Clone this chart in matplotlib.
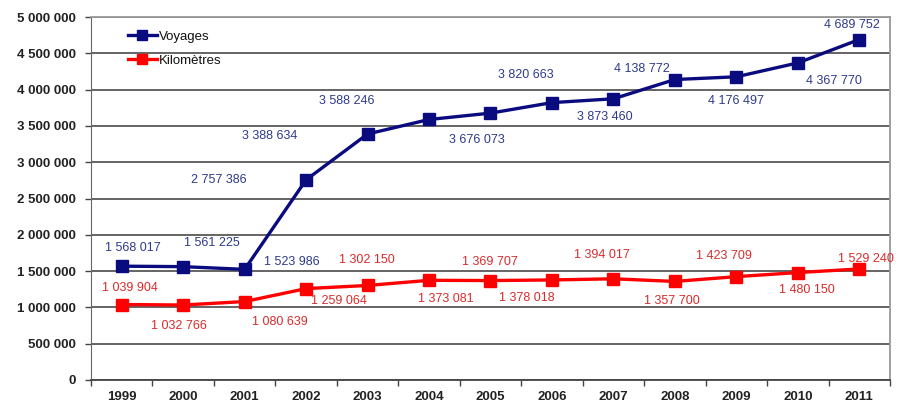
import matplotlib
matplotlib.use("Agg")
import matplotlib.pyplot as plt
from matplotlib.ticker import FuncFormatter, MultipleLocator, FixedLocator
import numpy as np

years = ["1999", "2000", "2001", "2002", "2003", "2004", "2005",
         "2006", "2007", "2008", "2009", "2010", "2011"]
voyages = [1568017, 1561225, 1523986, 2757386, 3388634, 3588246, 3676073,
           3820663, 3873460, 4138772, 4176497, 4367770, 4689752]
kilometres = [1039904, 1032766, 1080639, 1259064, 1302150, 1373081, 1369707,
              1378018, 1394017, 1357700, 1423709, 1480150, 1529240]
series_names = ["Voyages", "Kilomètres"]

# label offsets in pixels (dx, dy) - styling only
voy_off = [(11, 18), (29, 24), (47, 7), (-87, 0), (-98, -2), (-82, 18), (-14, -27),
           (-26, 28), (-9, -18), (-33, 11), (0, -24), (36, -18), (-7, 15)]
km_off = [(8, 17), (-4, -21), (35, -20), (33, -12), (-1, 25), (17, -19), (-1, 19),
          (-25, -18), (-11, 24), (-3, -20), (-12, 21), (9, -17), (7, 10)]

plt.rcParams['font.family'] = ['Liberation Sans', 'DejaVu Sans']

fig = plt.figure(figsize=(9.03, 4.03), dpi=100)
ax = fig.add_axes([91/903, 23/403, (890-91)/903, (380-17)/403])

x = np.arange(len(years))
c_voy = "#0b0b80"
c_km = "#ff0000"
ax.plot(x, voyages, color=c_voy, lw=2.4, marker="s", ms=8.5, label=series_names[0], zorder=3)
ax.plot(x, kilometres, color=c_km, lw=2.4, marker="s", ms=8.5, label=series_names[1], zorder=3)

def fmt(v):
    return f"{v:,}".replace(",", " ")

for xi, v, (dx, dy) in zip(x, voyages, voy_off):
    ax.annotate(fmt(v), (xi, v), xytext=(dx, dy), textcoords="offset pixels",
                ha="center", va="center", fontsize=9, color="#2e3a8c", zorder=4)
for xi, v, (dx, dy) in zip(x, kilometres, km_off):
    ax.annotate(fmt(v), (xi, v), xytext=(dx, dy), textcoords="offset pixels",
                ha="center", va="center", fontsize=9, color="#d92b2b", zorder=4)

ax.set_xlim(-0.5, len(years) - 0.5)
ax.set_ylim(0, 5000000)
ax.yaxis.set_major_locator(MultipleLocator(500000))
ax.yaxis.set_major_formatter(FuncFormatter(lambda v, p: fmt(int(v))))
ax.set_xticks(x)
ax.set_xticklabels(years)
ax.xaxis.set_minor_locator(FixedLocator(np.arange(-0.5, len(years), 1.0)))
ax.tick_params(axis="x", which="major", length=0, pad=8, labelsize=9.5, labelcolor="#222222")
ax.tick_params(axis="x", which="minor", length=4, width=1, color="#444444", direction="out")
ax.tick_params(axis="y", length=4, width=1, color="#444444", labelsize=9.5, labelcolor="#222222", pad=7)
for lab in ax.get_xticklabels() + ax.get_yticklabels():
    lab.set_fontweight("bold")

ax.grid(axis="y", color="#3a3a3a", lw=1.1, zorder=0)
ax.set_axisbelow(True)
ax.spines["left"].set_color("#666666")
ax.spines["bottom"].set_color("#444444")
ax.spines["bottom"].set_linewidth(1.3)
ax.spines["top"].set_color("#999999")
ax.spines["right"].set_color("#999999")
ax.spines["top"].set_linewidth(1.3)
ax.spines["right"].set_linewidth(1.3)

leg = ax.legend(loc="upper left", bbox_to_anchor=(0.031, 0.995), frameon=False,
                fontsize=9.5, handlelength=2.2, handletextpad=0.15, labelspacing=0.9,
                markerscale=0.8)
for t in leg.get_texts():
    t.set_color("#111111")

fig.savefig("out.png", dpi=100, facecolor="white")
